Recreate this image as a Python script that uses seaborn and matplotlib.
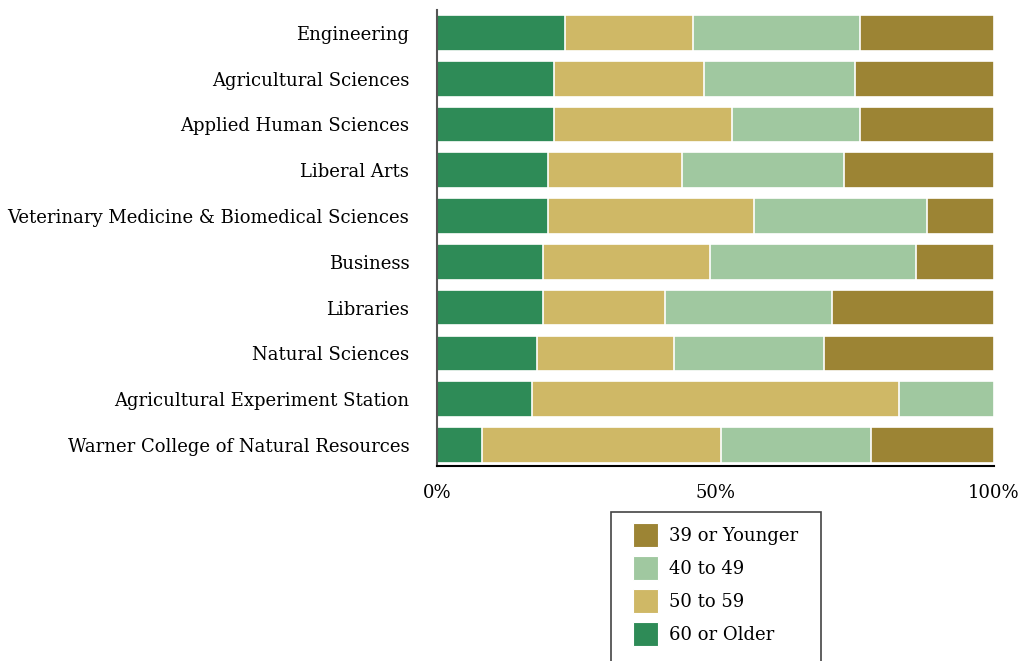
import matplotlib
matplotlib.use("Agg")
import matplotlib.pyplot as plt
import seaborn as sns
import pandas as pd
import numpy as np
from matplotlib.patches import Patch, Rectangle

colleges = [
    "Engineering",
    "Agricultural Sciences",
    "Applied Human Sciences",
    "Liberal Arts",
    "Veterinary Medicine & Biomedical Sciences",
    "Business",
    "Libraries",
    "Natural Sciences",
    "Agricultural Experiment Station",
    "Warner College of Natural Resources",
]
age_60_plus = [23.0, 21.0, 21.0, 20.0, 20.0, 19.0, 19.0, 18.0, 17.0, 8.0]
age_50_59 = [23.0, 27.0, 32.0, 24.0, 37.0, 30.0, 22.0, 24.5, 66.0, 43.0]
age_40_49 = [30.0, 27.0, 23.0, 29.0, 31.0, 37.0, 30.0, 27.0, 17.0, 27.0]
age_39_under = [24.0, 25.0, 24.0, 27.0, 12.0, 14.0, 29.0, 30.5, 0.0, 22.0]

series_names = ["60 or Older", "50 to 59", "40 to 49", "39 or Younger"]
colors = {"60 or Older": "#2E8B57", "50 to 59": "#CFB866",
          "40 to 49": "#A0C8A0", "39 or Younger": "#9C8434"}
xtick_vals = [0, 50, 100]
xtick_labels = ["0%", "50%", "100%"]

df = pd.DataFrame({"college": colleges, "60 or Older": age_60_plus,
                   "50 to 59": age_50_59, "40 to 49": age_40_49,
                   "39 or Younger": age_39_under})
vals = df[series_names].to_numpy()
tot = vals.sum(axis=1, keepdims=True)
pct = vals / tot * 100
cum = np.cumsum(pct, axis=1)

sns.set_style("white")
plt.rcParams["font.family"] = ["DejaVu Serif"]
plt.rcParams["text.color"] = "black"
plt.rcParams["xtick.color"] = "black"
plt.rcParams["ytick.color"] = "black"

W, H = 1018, 661
fig = plt.figure(figsize=(W / 100, H / 100), dpi=100)
ax = fig.add_axes([437/W, 1-466/H, (994-437)/W, (466-10)/H])

for i in range(len(series_names) - 1, -1, -1):
    name = series_names[i]
    d = pd.DataFrame({"college": colleges, "value": cum[:, i]})
    sns.barplot(data=d, x="value", y="college", orient="h", color=colors[name],
                saturation=1, width=0.78, edgecolor="white", linewidth=1.2, ax=ax)

ax.set_xlim(0, 100)
ax.set_ylim(9.46, -0.5)
ax.set_xticks(xtick_vals)
ax.set_xticklabels(xtick_labels)
ax.set_xlabel("")
ax.set_ylabel("")
ax.tick_params(axis="x", length=0, pad=13, labelsize=13, labelcolor="black")
ax.tick_params(axis="y", length=0, pad=20, labelsize=13, labelcolor="black")
for s in ["top", "right"]:
    ax.spines[s].set_visible(False)
ax.spines["left"].set_color("#555555")
ax.spines["left"].set_linewidth(1.5)
ax.spines["bottom"].set_color("black")
ax.spines["bottom"].set_linewidth(1.5)

# legend frame (extends past the bottom edge, as in the original)
fig.patches.append(Rectangle((611/W, -20/H), (821-611)/W, (H - 512 + 20)/H,
                             transform=fig.transFigure, facecolor="white",
                             edgecolor="#444444", linewidth=1.2, zorder=0))

handles = [Patch(facecolor=colors[n], edgecolor="white", linewidth=0.8, label=n)
           for n in reversed(series_names)]
leg = fig.legend(handles=handles, loc="upper left",
                 bbox_to_anchor=(633/W, 1-523/H), fontsize=13,
                 frameon=False, handlelength=1.4, handleheight=1.67,
                 handletextpad=0.6, labelspacing=0.5, borderpad=0,
                 borderaxespad=0)
for t in leg.get_texts():
    t.set_color("black")

fig.savefig("out.png", dpi=100)
